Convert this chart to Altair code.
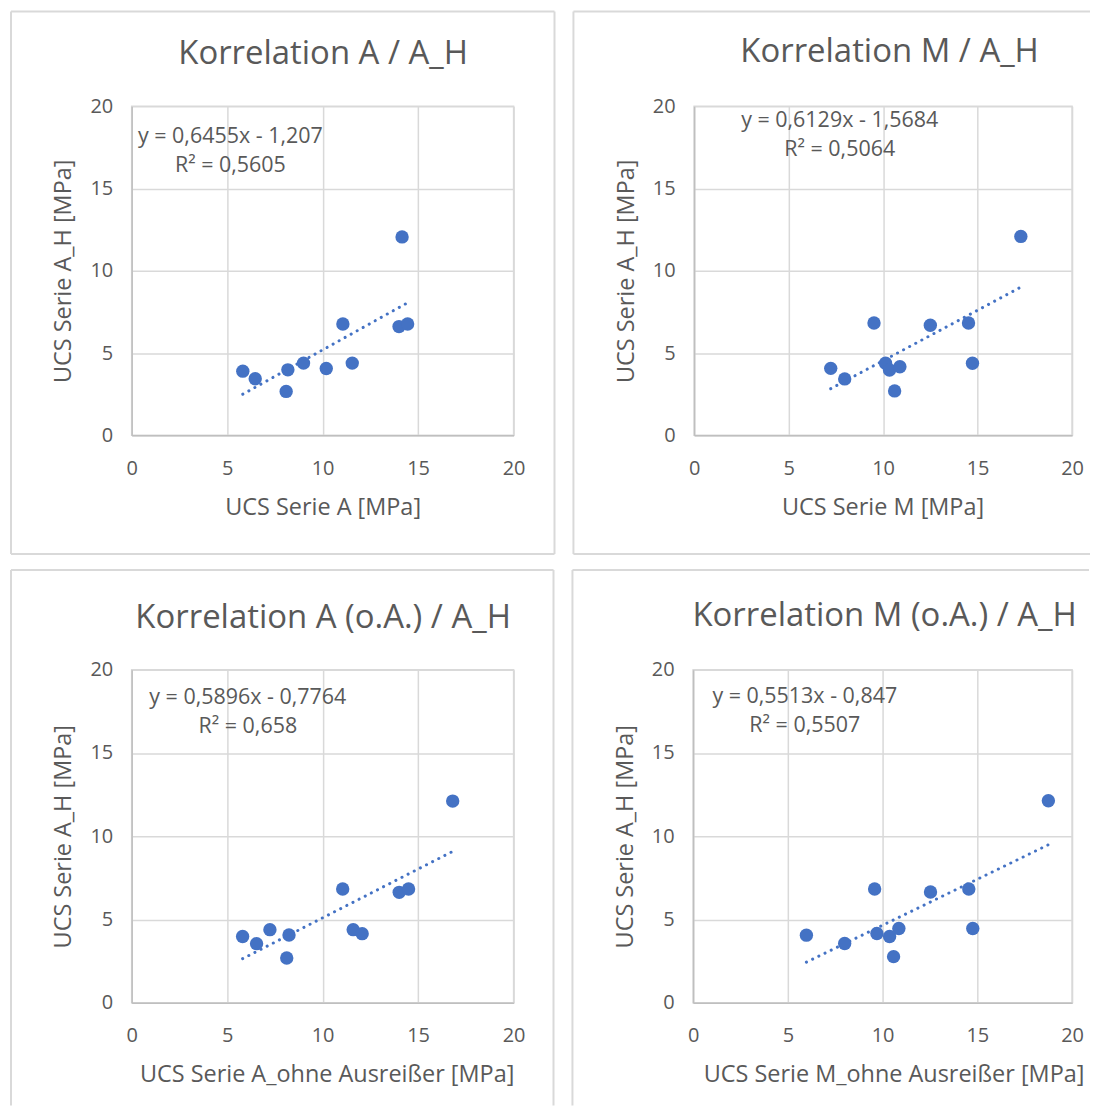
import altair as alt
import pandas as pd

# ---------------- data ----------------
titles = [
    "Korrelation A / A_H",
    "Korrelation M / A_H",
    "Korrelation A (o.A.) / A_H",
    "Korrelation M (o.A.) / A_H",
]
x_titles = [
    "UCS Serie A [MPa]",
    "UCS Serie M [MPa]",
    "UCS Serie A_ohne Ausreißer [MPa]",
    "UCS Serie M_ohne Ausreißer [MPa]",
]
y_title = "UCS Serie A_H [MPa]"
equations = [
    "y = 0,6455x - 1,207",
    "y = 0,6129x - 1,5684",
    "y = 0,5896x - 0,7764",
    "y = 0,5513x - 0,847",
]
r_squared = ["R² = 0,5605", "R² = 0,5064", "R² = 0,658", "R² = 0,5507"]
tick_values = [0, 5, 10, 15, 20]

serie_a = [5.82, 6.47, 8.09, 8.18, 9.00, 10.19, 11.06, 11.55, 14.00, 14.16, 14.45]
a_h_a = [3.90, 3.44, 2.67, 3.98, 4.39, 4.06, 6.77, 4.39, 6.61, 12.06, 6.77]

serie_m = [7.23, 7.97, 9.52, 10.13, 10.34, 10.61, 10.89, 12.50, 14.52, 14.73, 17.29]
a_h_m = [4.07, 3.43, 6.83, 4.38, 3.97, 2.70, 4.17, 6.69, 6.83, 4.38, 12.09]

serie_a_oa = [5.81, 6.54, 7.24, 8.12, 8.24, 11.05, 11.60, 12.07, 14.01, 14.50, 16.81]
a_h_a_oa = [3.98, 3.55, 4.39, 2.69, 4.07, 6.83, 4.39, 4.15, 6.63, 6.83, 12.11]

serie_m_oa = [5.98, 8.00, 9.58, 9.70, 10.37, 10.58, 10.86, 12.53, 14.55, 14.76, 18.75]
a_h_m_oa = [4.06, 3.56, 6.83, 4.16, 3.98, 2.77, 4.46, 6.65, 6.83, 4.46, 12.13]

series = [(serie_a, a_h_a), (serie_m, a_h_m), (serie_a_oa, a_h_a_oa), (serie_m_oa, a_h_m_oa)]

# ---------------- styling / layout ----------------
FONT = "Open Sans"
TXT = "#595959"
BLUE = "#4472C4"
FRAME = "#d9d9d9"

layouts = [
    dict(w=383, h=330, top=-95, left=-121, right=424, bottom=449, open_right=False, open_bottom=False,
         tx=192, ty=-52, ex=99, ey=31, xtx=191.5),
    dict(w=379, h=330, top=-95, left=-121, right=397, bottom=449, open_right=True, open_bottom=False,
         tx=196, ty=-54, ex=146, ey=15, xtx=189),
    dict(w=383, h=334, top=-100, left=-121, right=423, bottom=437, open_right=False, open_bottom=True,
         tx=192, ty=-52, ex=116.5, ey=28, xtx=195.5),
    dict(w=380, h=334, top=-100, left=-121, right=397, bottom=437, open_right=True, open_bottom=True,
         tx=192, ty=-54, ex=112, ey=27, xtx=201),
]

one = pd.DataFrame({"k": [0]})


def rule(x1, x2, y1, y2):
    return alt.Chart(one).mark_rule(color=FRAME, strokeWidth=2).encode(
        x=alt.value(x1), x2=alt.value(x2), y=alt.value(y1), y2=alt.value(y2)
    )


def text(s, x, y, size):
    return alt.Chart(pd.DataFrame({"t": [s]})).mark_text(
        font=FONT, fontSize=size, color=TXT, align="center", baseline="middle"
    ).encode(text="t:N", x=alt.value(x), y=alt.value(y))


def panel(i):
    L = layouts[i]
    xs, ys = series[i]
    df = pd.DataFrame({"x": xs, "y": ys})
    xenc = alt.X(
        "x:Q",
        scale=alt.Scale(domain=[0, 20], nice=False),
        axis=alt.Axis(values=tick_values, title=x_titles[i], titleX=L["xtx"]),
    )
    yenc = alt.Y(
        "y:Q",
        scale=alt.Scale(domain=[0, 20], nice=False),
        axis=alt.Axis(values=tick_values, title=y_title),
    )
    base = alt.Chart(df)
    pts = base.mark_circle(size=180, color=BLUE, opacity=1).encode(x=xenc, y=yenc)
    trend = base.transform_regression("x", "y").mark_line(
        color=BLUE, strokeWidth=3, strokeDash=[0.1, 6.8], strokeCap="round"
    ).encode(x="x:Q", y="y:Q")

    frames = [
        rule(L["left"], L["right"], L["top"], L["top"]),
        rule(L["left"], L["left"], L["top"], L["bottom"]),
    ]
    if not L["open_right"]:
        frames.append(rule(L["right"], L["right"], L["top"], L["bottom"]))
    if not L["open_bottom"]:
        frames.append(rule(L["left"], L["right"], L["bottom"], L["bottom"]))

    labels = [
        text(titles[i], L["tx"], L["ty"], 33),
        text(equations[i], L["ex"], L["ey"], 21.5),
        text(r_squared[i], L["ex"], L["ey"] + 29, 21.5),
    ]
    return alt.layer(*frames, trend, pts, *labels).properties(width=L["w"], height=L["h"])


row1 = alt.hconcat(panel(0), panel(1), spacing=15)
row2 = alt.hconcat(panel(2), panel(3), spacing=15)

chart = (
    alt.vconcat(row1, row2, spacing=12)
    .properties(padding={"left": 1, "top": 0, "right": 0, "bottom": 0}, background="white")
    .configure_view(stroke=FRAME, strokeWidth=1.5)
    .configure_axis(
        labelFont=FONT,
        labelFontSize=20,
        labelColor=TXT,
        labelFlush=False,
        titleFont=FONT,
        titleFontSize=23.5,
        titleColor=TXT,
        titleFontWeight="normal",
        gridColor=FRAME,
        gridWidth=1.5,
        domainColor="#bfbfbf",
        domainWidth=1.5,
        ticks=False,
    )
    .configure_axisX(labelPadding=23, titlePadding=17)
    .configure_axisY(labelPadding=19, titlePadding=14)
)

chart.save("out.html", embed_options={"renderer": "svg", "actions": False})
